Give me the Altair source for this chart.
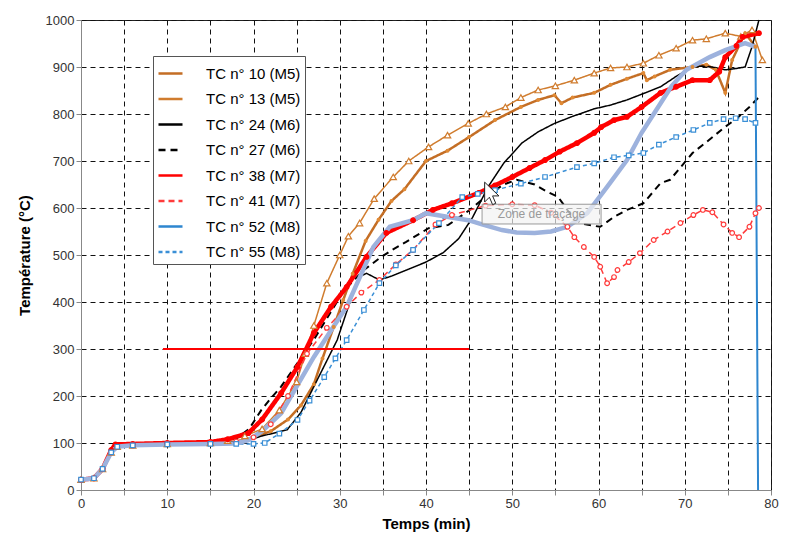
import altair as alt
import pandas as pd

names = ["TC n° 10 (M5)", "TC n° 13 (M5)", "TC n° 24 (M6)", "TC n° 27 (M6)",
         "TC n° 38 (M7)", "TC n° 41 (M7)", "TC n° 52 (M8)", "TC n° 55 (M8)"]

t10 = [0, 1.5, 2.5, 3.5, 4.2, 6, 10, 15, 18, 20, 22, 24, 25.5, 27, 28, 29.3, 30.4, 31.5, 33, 34.5, 36, 37.5, 40,
       42.5, 45, 48, 51, 53, 54.9, 55.7, 57, 59.5, 61.4, 63.3, 65.2, 65.6, 66.5, 68.3, 70.9, 72.5, 73.6, 74.7, 75.5,
       77, 78.2]
T10 = [22, 25, 45, 80, 92, 95, 98, 100, 103, 112, 125, 150, 180, 225, 280, 347, 404, 460, 530, 575, 615, 640, 700,
       722, 751, 787, 815, 830, 840, 823, 835, 845, 862, 875, 887, 872, 880, 894, 900, 905, 894, 845, 915, 972, 943]

t13 = [0, 1.5, 2.5, 3.5, 4.2, 6, 10, 15, 17, 19, 21, 23, 25, 26, 27, 28.5, 30, 31, 32.3, 34, 36.2, 38, 40.3, 42.5,
       44.9, 47, 49.2, 51, 53, 55, 57.2, 59.5, 61.4, 63.3, 65.2, 67, 69, 70.9, 72.5, 74.7, 76.5, 77.8, 79]
T13 = [22, 25, 45, 80, 92, 95, 98, 100, 105, 115, 130, 170, 230, 290, 350, 440, 500, 540, 568, 620, 666, 700, 730,
       755, 780, 800, 815, 835, 851, 860, 872, 887, 898, 900, 908, 925, 940, 957, 960, 972, 965, 979, 915]

t24 = [0, 1.5, 2.5, 3.5, 4.2, 6, 10, 15, 18, 19.4, 21, 23.9, 25.5, 27, 28.5, 29.7, 31, 32.3, 33.1, 34.6, 36, 38, 40,
       42, 43.8, 45.4, 47.2, 49, 51.1, 53, 54.9, 57, 59.5, 61.4, 63.3, 65, 67.2, 69, 70.9, 72, 73.2, 74.7, 76, 77,
       77.8, 78.6]
T24 = [22, 25, 45, 80, 92, 95, 98, 100, 102, 106, 115, 128, 165, 220, 275, 319, 390, 454, 461, 447, 455, 470, 485,
       505, 535, 580, 645, 695, 738, 762, 780, 795, 811, 819, 830, 842, 858, 880, 900, 902, 900, 894, 897, 900,
       943, 1000]

t27 = [0, 1.5, 2.5, 3.5, 4.2, 6, 10, 15, 18, 19.5, 20.9, 22, 23.2, 25.1, 27, 29, 30.5, 32.8, 34.6, 36, 37.7, 40.3,
       42.6, 45, 47, 49, 50.5, 52.6, 54, 55.3, 57, 58, 59.5, 60.2, 61.8, 63.3, 65.2, 67.2, 68.3, 70.9, 72.5, 74.7,
       76, 77.5, 78.6]
T27 = [22, 25, 45, 80, 92, 95, 98, 100, 110, 130, 170, 195, 220, 270, 320, 380, 425, 468, 493, 510, 528, 557, 564,
       595, 625, 650, 660, 650, 635, 624, 580, 567, 562, 560, 581, 596, 610, 653, 660, 717, 740, 773, 790, 815, 836]

t38 = [0, 1.5, 2.5, 3.5, 4, 6, 10, 15, 17, 19.4, 21, 23.2, 25.1, 27, 29, 30.8, 33.1, 35.4, 38.5, 40.8, 43, 46.1,
       48, 50, 52, 53.8, 55.5, 57.5, 59.5, 60.3, 61.8, 63.3, 65, 67.2, 69, 70.9, 72.9, 74, 74.7, 76, 76.7, 78.6]
T38 = [22, 25, 45, 85, 97, 98, 100, 102, 108, 121, 150, 206, 262, 334, 390, 432, 496, 547, 574, 596, 610, 632, 648,
       666, 685, 702, 720, 738, 760, 772, 787, 794, 815, 845, 858, 872, 872, 890, 921, 945, 964, 972]

t41 = [0, 1.5, 2.5, 3.5, 4.2, 6, 10, 15, 18, 20, 22, 24, 26.2, 28.5, 30.8, 32.5, 34.6, 36.5, 38.5, 41.1, 43, 46.9,
       50, 52.6, 54.5, 56.4, 57.2, 58.3, 59.5, 60.2, 61, 61.8, 62.2, 63.5, 64.8, 66.4, 68, 69.5, 71, 72.1, 73.2,
       74.5, 75.5, 76.3, 77.5, 78.2, 78.6]
T41 = [22, 25, 45, 80, 92, 95, 98, 100, 103, 112, 140, 200, 290, 345, 390, 420, 447, 480, 511, 565, 585, 605, 608,
       606, 590, 560, 538, 517, 496, 475, 440, 453, 468, 485, 504, 532, 550, 568, 585, 596, 591, 565, 547, 538, 560,
       589, 600]

t52 = [0, 1.5, 2.5, 3.5, 4.2, 6, 10, 15, 18, 19.4, 21, 23.2, 25, 27, 29, 30.8, 32.5, 33.9, 35.8, 38.5, 40, 42.6,
       44.9, 46.5, 48.8, 50.5, 52.6, 54.5, 56.4, 58.7, 61, 63.3, 65, 67.2, 68.5, 70.2, 72.9, 74.7, 77, 78.2, 78.5]
T52 = [22, 25, 45, 80, 92, 95, 97, 98, 99, 106, 125, 163, 220, 283, 340, 390, 460, 517, 560, 574, 589, 581, 574,
       565, 553, 548, 547, 550, 560, 589, 645, 702, 760, 823, 860, 894, 921, 936, 951, 943, 0]

t55 = [0, 1.5, 2.5, 3.5, 4.2, 6, 10, 15, 18, 20, 21.3, 23, 25.1, 26.5, 28.2, 29.5, 30.8, 32.8, 34.6, 36.5, 38.5,
       41.5, 44.2, 46, 48, 51, 53.8, 57.5, 59.5, 61.8, 63.5, 65.2, 67, 69, 71, 72.9, 74.5, 75.9, 77, 78.2]
T55 = [22, 25, 45, 80, 92, 95, 97, 98, 98, 98, 100, 120, 149, 190, 240, 280, 319, 383, 440, 478, 511, 568, 623,
       630, 638, 652, 666, 687, 695, 708, 712, 717, 735, 751, 766, 781, 789, 791, 789, 781]

series_t = [t10, t13, t24, t27, t38, t41, t52, t55]
series_T = [T10, T13, T24, T27, T38, T41, T52, T55]

line_colors = ["#C46E25", "#D07C2E", "#000000", "#000000", "#FF0000", "#FF3B3B", "#2E86CF", "#3A8FD6"]
line_dashes = [[1, 0], [1, 0], [1, 0], [7, 5], [1, 0], [6, 4], [1, 0], [4, 3]]
line_widths = [2.5, 1.5, 1.5, 2, 4.5, 1.5, 2, 1.5]
marker_shape = ["circle", "triangle-up", None, None, "circle", "circle", None, "square"]
marker_fill = ["#E08A35", "#FFFFFF", None, None, "#FF0000", "#FFFFFF", None, "#FFFFFF"]
marker_stroke = ["#E08A35", "#D07C2E", None, None, "#FF0000", "#FF3B3B", None, "#3A8FD6"]
marker_size = [8, 40, 0, 0, 22, 22, 0, 20]

# threshold line
thr_t = [9.5, 45]
thr_T = [300, 300]

# tooltip annotation
ann_text = "Zone de traçage"
ann_t = [46.5, 60.3]
ann_T = [566, 608]
cursor_t = [46.8]
cursor_T = [655]

rows, pts, lav = [], [], []
for i, name in enumerate(names):
    for k, (a, b) in enumerate(zip(series_t[i], series_T[i])):
        rows.append(dict(series=name, t=a, T=b, order=k, sw=line_widths[i]))
        if marker_shape[i]:
            pts.append(dict(series=name, t=a, T=b, shape=marker_shape[i], fill=marker_fill[i],
                            stroke=marker_stroke[i], size=marker_size[i]))
        if i == 6 and b > 0:
            lav.append(dict(t=a, T=b, order=k))
df = pd.DataFrame(rows)
dfp = pd.DataFrame(pts)
dfl = pd.DataFrame(lav)

xs = alt.Scale(domain=[0, 80], nice=False)
ys = alt.Scale(domain=[0, 1000], nice=False)
xax = alt.Axis(values=list(range(0, 81, 5)), labelExpr="datum.value % 10 == 0 ? datum.label : ''",
               format="d", title="Temps (min)", titlePadding=6, grid=True, labelFlush=False)
yax = alt.Axis(values=list(range(0, 1001, 50)), labelExpr="datum.value % 100 == 0 ? datum.label : ''",
               format="d", title="Température (°C)", titlePadding=13, grid=True)

leg = alt.Legend(title=None, orient="none", legendX=72, legendY=36, fillColor="white", strokeColor="#555555",
                 padding=4, labelFontSize=15, labelColor="#000000", symbolType="stroke", symbolSize=576,
                 symbolStrokeWidth=2.5, rowPadding=3.5, labelOffset=22, labelFont="Liberation Sans")

base_x = alt.X("t:Q", scale=xs, axis=xax)
base_y = alt.Y("T:Q", scale=ys, axis=yax)

lines = alt.Chart(df).mark_line().encode(
    x=base_x, y=base_y,
    color=alt.Color("series:N", scale=alt.Scale(domain=names, range=line_colors), legend=leg),
    strokeDash=alt.StrokeDash("series:N", scale=alt.Scale(domain=names, range=line_dashes), legend=leg),
    strokeWidth=alt.StrokeWidth("sw:Q", scale=None),
    order="order:Q",
)

lavender = alt.Chart(dfl).mark_line(color="#9DB2DD", strokeWidth=4.5).encode(
    x=alt.X("t:Q", scale=xs), y=alt.Y("T:Q", scale=ys), order="order:Q")

points = alt.Chart(dfp).mark_point(filled=True, strokeWidth=1.2, opacity=1).encode(
    x=alt.X("t:Q", scale=xs), y=alt.Y("T:Q", scale=ys),
    shape=alt.Shape("shape:N", scale=None),
    fill=alt.Fill("fill:N", scale=None),
    stroke=alt.Stroke("stroke:N", scale=None),
    size=alt.Size("size:Q", scale=None),
)

thr = alt.Chart(pd.DataFrame({"t": thr_t, "T": thr_T})).mark_line(color="#FF0000", strokeWidth=2).encode(
    x=alt.X("t:Q", scale=xs), y=alt.Y("T:Q", scale=ys))

box = alt.Chart(pd.DataFrame({"t1": [ann_t[0]], "t2": [ann_t[1]], "T1": [ann_T[0]], "T2": [ann_T[1]]})).mark_rect(
    fill="#F2F2F2", fillOpacity=0.7, stroke="#9A9A9A", strokeWidth=1).encode(
    x=alt.X("t1:Q", scale=xs), x2="t2:Q", y=alt.Y("T1:Q", scale=ys), y2="T2:Q")

txt = alt.Chart(pd.DataFrame({"t": [(ann_t[0] + ann_t[1]) / 2], "T": [(ann_T[0] + ann_T[1]) / 2],
                              "label": [ann_text]})).mark_text(
    font="Liberation Sans", fontSize=12, color="#9A9A9A").encode(
    x=alt.X("t:Q", scale=xs), y=alt.Y("T:Q", scale=ys), text="label:N")

cursor = alt.Chart(pd.DataFrame({"t": cursor_t, "T": cursor_T})).mark_point(
    shape="M0,0L0,1.5L0.36,1.14L0.6,1.7L0.84,1.6L0.6,1.04L1.08,1.04Z", size=700, filled=True,
    fill="white", stroke="#222222", strokeWidth=1, opacity=1).encode(
    x=alt.X("t:Q", scale=xs), y=alt.Y("T:Q", scale=ys))

chart = alt.layer(lines, lavender, points, thr, box, txt, cursor).properties(
    width=690, height=470, autosize=alt.AutoSizeParams(type="none"),
    padding={"left": 73, "top": 12, "right": 10, "bottom": 45}
).configure(font="Liberation Sans").configure_view(stroke="#222222", strokeWidth=1).configure_axis(
    grid=True, gridDash=[5, 4], gridColor="#111111", gridWidth=1, gridOpacity=1,
    domainColor="#888888", tickColor="#888888", tickSize=5,
    labelFont="Liberation Sans", labelFontSize=13, labelColor="#333333",
    titleFont="Liberation Sans", titleFontSize=15, titleFontWeight="bold", titleColor="#000000",
)

chart.save("out.html", embed_options={"renderer": "svg", "actions": False})
